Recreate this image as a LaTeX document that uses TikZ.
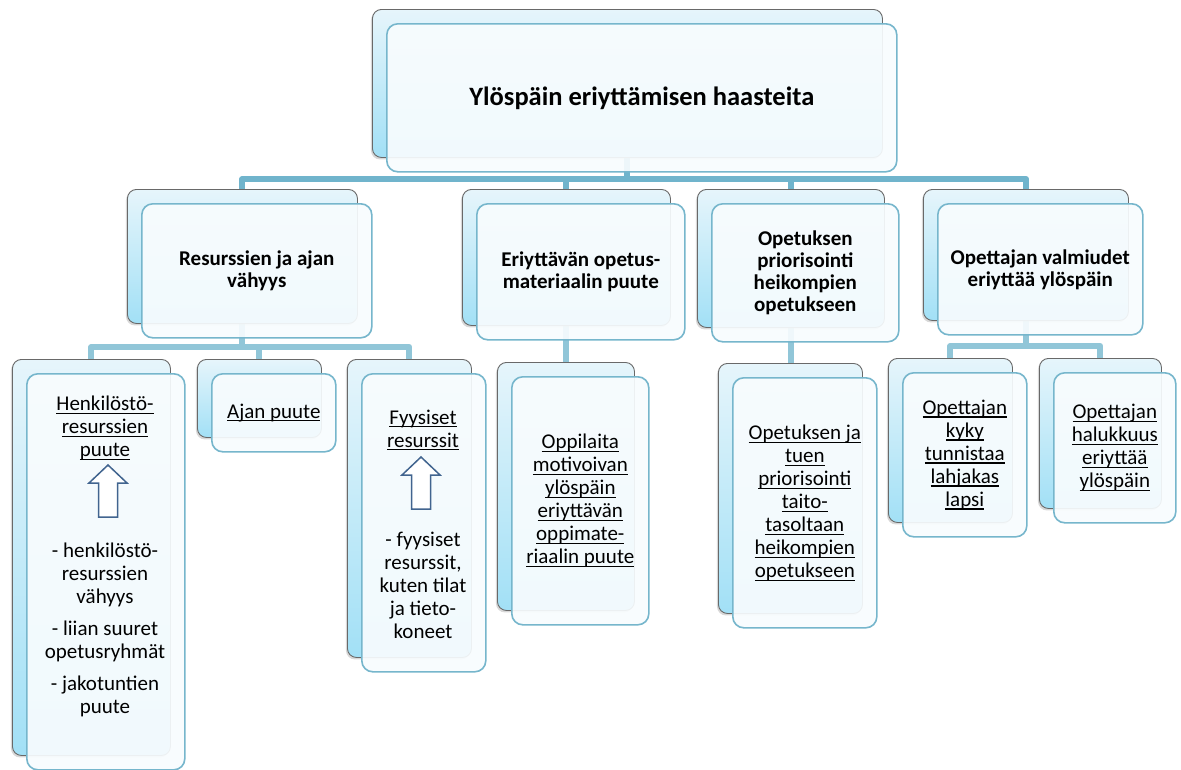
\documentclass[tikz,border=0pt]{standalone}
\usepackage{fontspec}
\setmainfont{Carlito}
\usetikzlibrary{shadows,backgrounds}

\definecolor{backtop}{RGB}{230,245,251}
\definecolor{backbot}{RGB}{162,224,246}
\definecolor{backline}{RGB}{105,105,105}
\definecolor{frontline}{RGB}{118,182,204}
\definecolor{frontfill}{RGB}{248,252,254}
\definecolor{linkA}{RGB}{112,180,204}
\definecolor{linkB}{RGB}{145,198,216}
\definecolor{arrowline}{RGB}{65,100,143}

% underlined word or line: the rule crosses the descenders
\newsavebox{\ulbox}
\newcommand{\ulword}[1]{\sbox{\ulbox}{#1}\rlap{\rule[-3.2pt]{\wd\ulbox}{1.1pt}}\usebox{\ulbox}}

\tikzset{
  backbox/.style={rectangle, rounded corners=9pt, draw=backline, line width=0.9pt,
    top color=backtop, bottom color=backbot, inner sep=0pt,
    drop shadow={shadow xshift=-1.5pt, shadow yshift=-2pt, opacity=0.3}},
  frontbox/.style={rectangle, rounded corners=11pt, draw=frontline, line width=1.6pt,
    fill=frontfill, fill opacity=0.92, inner sep=0pt},
  titletext/.style={font=\fontsize{26.5}{30}\selectfont\bfseries, align=center, inner sep=0pt},
  headtext/.style={font=\fontsize{21}{22}\selectfont\bfseries, align=center, inner sep=0pt},
  itemtext/.style={font=\fontsize{21}{23}\selectfont, align=center, inner sep=0pt},
  link1/.style={draw=linkA, line width=6pt, line join=round},
  link2/.style={draw=linkB, line width=6pt, line join=round},
  uparrow/.style={draw=arrowline, fill=white, line width=1.5pt, line join=miter}
}

% one entry: shaded back card and a lighter card laid over it
\newcommand{\boxpair}[5]{%
  \node[backbox, anchor=north west, minimum width=#4pt, minimum height=#5pt] (#1B) at (#2,#3) {};
  \node[frontbox, anchor=north west, minimum width=#4pt, minimum height=#5pt] (#1) at ({#2+14},{#3+14}) {};
}

\begin{document}
\begin{tikzpicture}[x=1pt,y=-1pt]
\useasboundingbox (0,0) rectangle (1181,769);

% level 1
\boxpair{top}{372}{9}{510}{148}
% level 2
\boxpair{a}{127}{189}{230}{134}
\boxpair{b}{462}{189}{208}{136}
\boxpair{c}{697}{189}{187}{138}
\boxpair{d}{923}{189}{205}{131}
% level 3
\boxpair{h}{12}{359}{158}{396}
\boxpair{j}{197}{359}{124}{78}
\boxpair{f}{347}{359}{124}{298}
\boxpair{o}{497}{362}{137}{248}
\boxpair{p}{718}{363}{144}{250}
\boxpair{k}{888}{358}{124}{164}
\boxpair{l}{1039}{358}{122}{150}

% texts
\node[titletext] (topT) at (top) {Ylöspäin eriyttämisen haasteita};
\node[headtext] (aT) at (a) {Resurssien ja ajan\\vähyys};
\node[headtext] (bT) at (b) {Eriyttävän opetus-\\materiaalin puute};
\node[headtext] (cT) at (c) {Opetuksen\\priorisointi\\heikompien\\opetukseen};
\node[headtext] (dT) at (d) {Opettajan valmiudet\\eriyttää ylöspäin};

\node[itemtext] (hT) at (105,428) {\ulword{Henkilöstö-}\\\ulword{resurssien}\\\ulword{puute}};
\draw[uparrow] (108,465) -- ++(19,18) -- ++(-9.5,0) -- ++(0,34) -- ++(-19,0) -- ++(0,-34) -- ++(-9.5,0) -- cycle;
\node[itemtext] (hL) at (105,630) {- henkilöstö-\\resurssien\\vähyys\\[9pt]- liian suuret\\opetusryhmät\\[9pt]- jakotuntien\\puute};

\node[itemtext] (jT) at (j) {\ulword{Ajan puute}};

\node[itemtext] (fT) at (423,430) {\ulword{Fyysiset}\\\ulword{resurssit}};
\draw[uparrow] (421,457) -- ++(19,18) -- ++(-9.5,0) -- ++(0,34) -- ++(-19,0) -- ++(0,-34) -- ++(-9.5,0) -- cycle;
\node[itemtext] (fL) at (423,585) {- fyysiset\\resurssit,\\kuten tilat\\ja tieto-\\koneet};

\node[itemtext] (oT) at (o) {\ulword{Oppilaita}\\\ulword{motivoivan}\\\ulword{ylöspäin}\\\ulword{eriyttävän}\\\ulword{oppimate-}\\\ulword{riaalin puute}};
\node[itemtext] (pT) at (p) {\ulword{Opetuksen ja}\\\ulword{tuen}\\\ulword{priorisointi}\\\ulword{taito-}\\\ulword{tasoltaan}\\\ulword{heikompien}\\\ulword{opetukseen}};
\node[itemtext] (kT) at (k) {\ulword{Opettajan}\\\ulword{kyky}\\\ulword{tunnistaa}\\\ulword{lahjakas}\\\ulword{lapsi}};
\node[itemtext] (lT) at (l) {\ulword{Opettajan}\\\ulword{halukkuus}\\\ulword{eriyttää}\\\ulword{ylöspäin}};

% connectors, behind the cards
\begin{scope}[on background layer]
  \fill[white] (0,0) rectangle (1181,769);
  \coordinate (bar1) at (0,179);
  \coordinate (bar2) at (0,347);
  \coordinate (bar3) at (0,346);
  \draw[link1] (aB.north) |- (bar1 -| dB.north) -- (dB.north);
  \draw[link1] (topB.south) -- (topB.south |- bar1);
  \draw[link1] (bB.north) -- (bB.north |- bar1);
  \draw[link1] (cB.north) -- (cB.north |- bar1);

  \draw[link2] (aB.south) -- (aB.south |- bar2);
  \draw[link2] (hB.north) |- (bar2 -| fB.north) -- (fB.north);
  \draw[link2] (jB.north) -- (jB.north |- bar2);
  \draw[link2] (bB.south) -- (bB.south |- oB.north);
  \draw[link2] (cB.south) -- (cB.south |- pB.north);
  \draw[link2] (dB.south) -- (dB.south |- bar3);
  \draw[link2] (kB.north) |- (bar3 -| lB.north) -- (lB.north);
\end{scope}
\end{tikzpicture}
\end{document}
